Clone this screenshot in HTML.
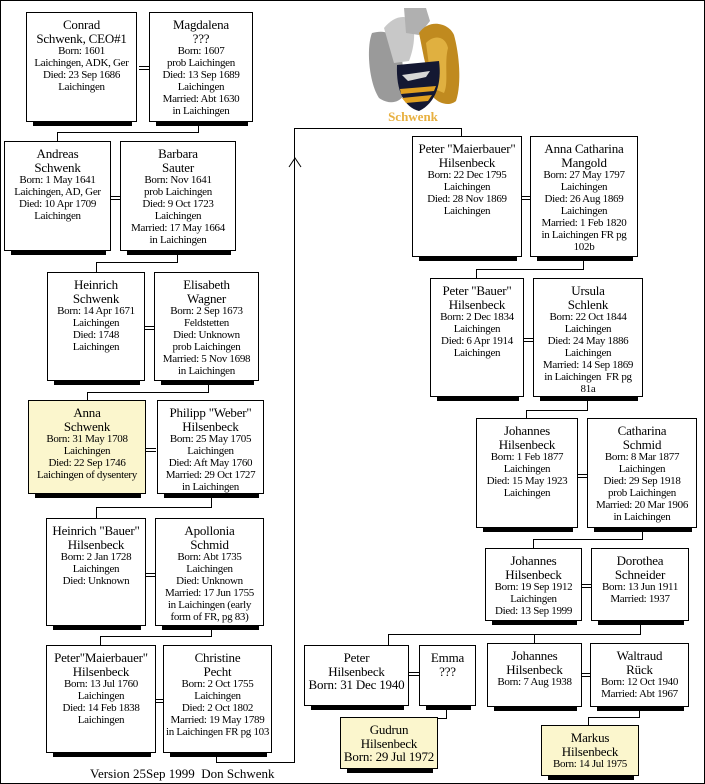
<!DOCTYPE html>
<html><head><meta charset="utf-8"><style>
body{margin:0;width:705px;height:784px;position:relative;background:#fff;font-family:"Liberation Serif",serif;overflow:hidden}
#frame{position:absolute;left:0;top:0;width:703px;height:782px;border:1px solid #000}
.b{position:absolute;box-sizing:border-box;border:1.5px solid #000;background:#fff;text-align:center;font-size:11px;line-height:12px;padding-top:5px;letter-spacing:-0.3px}
.b.y{background:#fbf6cd}
.b::after{content:"";position:absolute;left:6px;right:4px;bottom:-5px;height:4px;background:#000}
.b .n{font-size:13px;line-height:13.5px;letter-spacing:-0.2px}
.h{position:absolute;height:1px;background:#000}
.v{position:absolute;width:1px;background:#000}
.m{position:absolute;width:10px;height:4px;border-top:1px solid #000;border-bottom:1px solid #000;box-sizing:border-box}
</style></head><body>
<div id="frame"></div>

<svg style="position:absolute;left:364px;top:3px" width="100" height="122" viewBox="0 0 100 122">
<path d="M8 30 C2 45 5 80 15 95 C25 102 35 100 40 92 L38 50 C35 35 25 25 8 30Z" fill="#9a9a9a"/>
<path d="M20 25 C28 15 40 10 48 18 C52 30 50 45 45 58 L30 60 Z" fill="#c8c8c8"/>
<path d="M40 5 L62 5 L66 18 L55 32 L42 30 Z" fill="#b0b0b0"/>
<path d="M55 30 C65 15 85 20 90 32 C95 50 98 80 92 98 C85 104 75 100 70 95 L60 55 Z" fill="#c08a1f"/>
<path d="M62 40 C72 30 82 35 84 45 C80 60 85 80 80 90 L68 85 Z" fill="#e0b040"/>
<path d="M33 62 L75 58 C78 80 72 100 55 108 C40 104 32 88 33 62Z" fill="#141832"/>
<path d="M38 72 L52 70 L66 68 L62 74 L44 78Z" fill="#d8d8d8"/>
<path d="M36 86 L72 83 L70 88 L37 91Z" fill="#e0a020"/>
<path d="M38 95 L68 92 L64 98 L42 100Z" fill="#e0a020"/>
<text x="49" y="118" text-anchor="middle" font-family="Liberation Serif,serif" font-size="13" font-weight="bold" fill="#e8b040">Schwenk</text>
</svg>

<div class="b" style="left:26px;top:12px;width:111px;height:110px"><div class="n">Conrad<br>Schwenk, CEO#1</div>Born: 1601<br>Laichingen, ADK, Ger<br>Died: 23 Sep 1686<br>Laichingen</div>
<div class="m" style="left:139px;top:66px"></div>
<div class="b" style="left:149px;top:12px;width:104px;height:110px"><div class="n">Magdalena<br>???</div>Born: 1607<br>prob Laichingen<br>Died: 13 Sep 1689<br>Laichingen<br>Married: Abt 1630<br>in Laichingen</div>
<div class="v" style="left:198px;top:126px;height:6px"></div>
<div class="h" style="left:57px;top:132px;width:142px"></div>
<div class="v" style="left:57px;top:132px;height:9px"></div>

<div class="b" style="left:4px;top:141px;width:107px;height:110px"><div class="n">Andreas<br>Schwenk</div>Born: 1 May 1641<br>Laichingen, AD, Ger<br>Died: 10 Apr 1709<br>Laichingen</div>
<div class="m" style="left:111px;top:196px"></div>
<div class="b" style="left:120px;top:141px;width:116px;height:110px"><div class="n">Barbara<br>Sauter</div>Born: Nov 1641<br>prob Laichingen<br>Died: 9 Oct 1723<br>Laichingen<br>Married: 17 May 1664<br>in Laichingen</div>
<div class="v" style="left:177px;top:255px;height:7px"></div>
<div class="h" style="left:96px;top:262px;width:82px"></div>
<div class="v" style="left:96px;top:262px;height:10px"></div>

<div class="b" style="left:47px;top:272px;width:98px;height:109px"><div class="n">Heinrich<br>Schwenk</div>Born: 14 Apr 1671<br>Laichingen<br>Died: 1748<br>Laichingen</div>
<div class="m" style="left:145px;top:326px"></div>
<div class="b" style="left:154px;top:272px;width:105px;height:109px"><div class="n">Elisabeth<br>Wagner</div>Born: 2 Sep 1673<br>Feldstetten<br>Died: Unknown<br>prob Laichingen<br>Married: 5 Nov 1698<br>in Laichingen</div>
<div class="v" style="left:208px;top:385px;height:7px"></div>
<div class="h" style="left:87px;top:392px;width:122px"></div>
<div class="v" style="left:87px;top:392px;height:8px"></div>

<div class="b y" style="left:28px;top:400px;width:118px;height:94px"><div class="n">Anna<br>Schwenk</div>Born: 31 May 1708<br>Laichingen<br>Died: 22 Sep 1746<br>Laichingen of dysentery</div>
<div class="m" style="left:146px;top:448px"></div>
<div class="b" style="left:157px;top:400px;width:107px;height:94px"><div class="n">Philipp "Weber"<br>Hilsenbeck</div>Born: 25 May 1705<br>Laichingen<br>Died: Aft May 1760<br>Married: 29 Oct 1727<br>in Laichingen</div>
<div class="v" style="left:211px;top:498px;height:9px"></div>
<div class="h" style="left:96px;top:507px;width:116px"></div>
<div class="v" style="left:96px;top:507px;height:11px"></div>

<div class="b" style="left:46px;top:518px;width:100px;height:108px"><div class="n">Heinrich "Bauer"<br>Hilsenbeck</div>Born: 2 Jan 1728<br>Laichingen<br>Died: Unknown</div>
<div class="m" style="left:146px;top:573px"></div>
<div class="b" style="left:155px;top:518px;width:109px;height:108px"><div class="n">Apollonia<br>Schmid</div>Born: Abt 1735<br>Laichingen<br>Died: Unknown<br>Married: 17 Jun 1755<br>in Laichingen (early<br>form of FR, pg 83)</div>
<div class="v" style="left:211px;top:630px;height:6px"></div>
<div class="h" style="left:100px;top:636px;width:112px"></div>
<div class="v" style="left:100px;top:636px;height:9px"></div>

<div class="b" style="left:46px;top:645px;width:110px;height:108px"><div class="n">Peter"Maierbauer"<br>Hilsenbeck</div>Born: 13 Jul 1760<br>Laichingen<br>Died: 14 Feb 1838<br>Laichingen</div>
<div class="m" style="left:155px;top:699px"></div>
<div class="b" style="left:163px;top:645px;width:109px;height:108px"><div class="n">Christine<br>Pecht</div>Born: 2 Oct 1755<br>Laichingen<br>Died: 2 Oct 1802<br>Married: 19 May 1789<br>in Laichingen FR pg 103</div>

<div class="v" style="left:216px;top:757px;height:5px"></div>
<div class="h" style="left:216px;top:762px;width:79px"></div>
<div class="v" style="left:294px;top:128px;height:635px"></div>
<div class="h" style="left:294px;top:128px;width:168px"></div>
<div class="v" style="left:461px;top:128px;height:8px"></div>
<svg style="position:absolute;left:288px;top:155px" width="14" height="14"><path d="M1 12 L7 3 L13 12" fill="none" stroke="#000" stroke-width="1"/></svg>

<div class="b" style="left:412px;top:136px;width:110px;height:121px"><div class="n">Peter "Maierbauer"<br>Hilsenbeck</div>Born: 22 Dec 1795<br>Laichingen<br>Died: 28 Nov 1869<br>Laichingen</div>
<div class="m" style="left:521px;top:196px"></div>
<div class="b" style="left:530px;top:136px;width:108px;height:121px"><div class="n">Anna Catharina<br>Mangold</div>Born: 27 May 1797<br>Laichingen<br>Died: 26 Aug 1869<br>Laichingen<br>Married: 1 Feb 1820<br>in Laichingen FR pg<br>102b</div>
<div class="v" style="left:583px;top:261px;height:8px"></div>
<div class="h" style="left:476px;top:269px;width:108px"></div>
<div class="v" style="left:476px;top:269px;height:9px"></div>

<div class="b" style="left:430px;top:278px;width:94px;height:119px"><div class="n">Peter "Bauer"<br>Hilsenbeck</div>Born: 2 Dec 1834<br>Laichingen<br>Died: 6 Apr 1914<br>Laichingen</div>
<div class="m" style="left:524px;top:338px;width:9px"></div>
<div class="b" style="left:533px;top:278px;width:110px;height:119px"><div class="n">Ursula<br>Schlenk</div>Born: 22 Oct 1844<br>Laichingen<br>Died: 24 May 1886<br>Laichingen<br>Married: 14 Sep 1869<br>in Laichingen&nbsp; FR pg<br>81a</div>
<div class="v" style="left:587px;top:401px;height:9px"></div>
<div class="h" style="left:526px;top:410px;width:62px"></div>
<div class="v" style="left:526px;top:410px;height:8px"></div>

<div class="b" style="left:476px;top:418px;width:102px;height:110px"><div class="n">Johannes<br>Hilsenbeck</div>Born: 1 Feb 1877<br>Laichingen<br>Died: 15 May 1923<br>Laichingen</div>
<div class="m" style="left:578px;top:474px;width:9px"></div>
<div class="b" style="left:587px;top:418px;width:110px;height:110px"><div class="n">Catharina<br>Schmid</div>Born: 8 Mar 1877<br>Laichingen<br>Died: 29 Sep 1918<br>prob Laichingen<br>Married: 20 Mar 1906<br>in Laichingen</div>
<div class="v" style="left:642px;top:532px;height:7px"></div>
<div class="h" style="left:533px;top:539px;width:110px"></div>
<div class="v" style="left:533px;top:539px;height:9px"></div>

<div class="b" style="left:485px;top:548px;width:97px;height:73px"><div class="n">Johannes<br>Hilsenbeck</div>Born: 19 Sep 1912<br>Laichingen<br>Died: 13 Sep 1999</div>
<div class="m" style="left:582px;top:584px;width:9px"></div>
<div class="b" style="left:591px;top:548px;width:98px;height:73px"><div class="n">Dorothea<br>Schneider</div>Born: 13 Jun 1911<br>Married: 1937</div>
<div class="v" style="left:640px;top:625px;height:9px"></div>
<div class="h" style="left:388px;top:634px;width:253px"></div>
<div class="v" style="left:388px;top:634px;height:11px"></div>
<div class="v" style="left:534px;top:634px;height:9px"></div>

<div class="b" style="left:304px;top:645px;width:105px;height:61px"><div class="n">Peter<br>Hilsenbeck<br>Born: 31 Dec 1940</div></div>
<div class="m" style="left:409px;top:672px"></div>
<div class="b" style="left:419px;top:645px;width:57px;height:61px"><div class="n">Emma<br>???</div></div>
<div class="v" style="left:446px;top:710px;height:8px"></div>
<div class="h" style="left:390px;top:718px;width:57px"></div>

<div class="b" style="left:487px;top:643px;width:95px;height:64px"><div class="n">Johannes<br>Hilsenbeck</div>Born: 7 Aug 1938</div>
<div class="m" style="left:582px;top:673px;width:8px"></div>
<div class="b" style="left:590px;top:643px;width:99px;height:64px"><div class="n">Waltraud<br>Rück</div>Born: 12 Oct 1940<br>Married: Abt 1967</div>
<div class="v" style="left:639px;top:711px;height:6px"></div>
<div class="h" style="left:588px;top:717px;width:52px"></div>
<div class="v" style="left:588px;top:717px;height:8px"></div>

<div class="b y" style="left:340px;top:717px;width:98px;height:52px"><div class="n">Gudrun<br>Hilsenbeck<br>Born: 29 Jul 1972</div></div>
<div class="b y" style="left:541px;top:725px;width:98px;height:51px"><div class="n">Markus<br>Hilsenbeck</div>Born: 14 Jul 1975</div>

<div style="position:absolute;left:90px;top:766px;font-size:13px;white-space:nowrap">Version 25Sep 1999&nbsp; Don Schwenk</div>
</body></html>
